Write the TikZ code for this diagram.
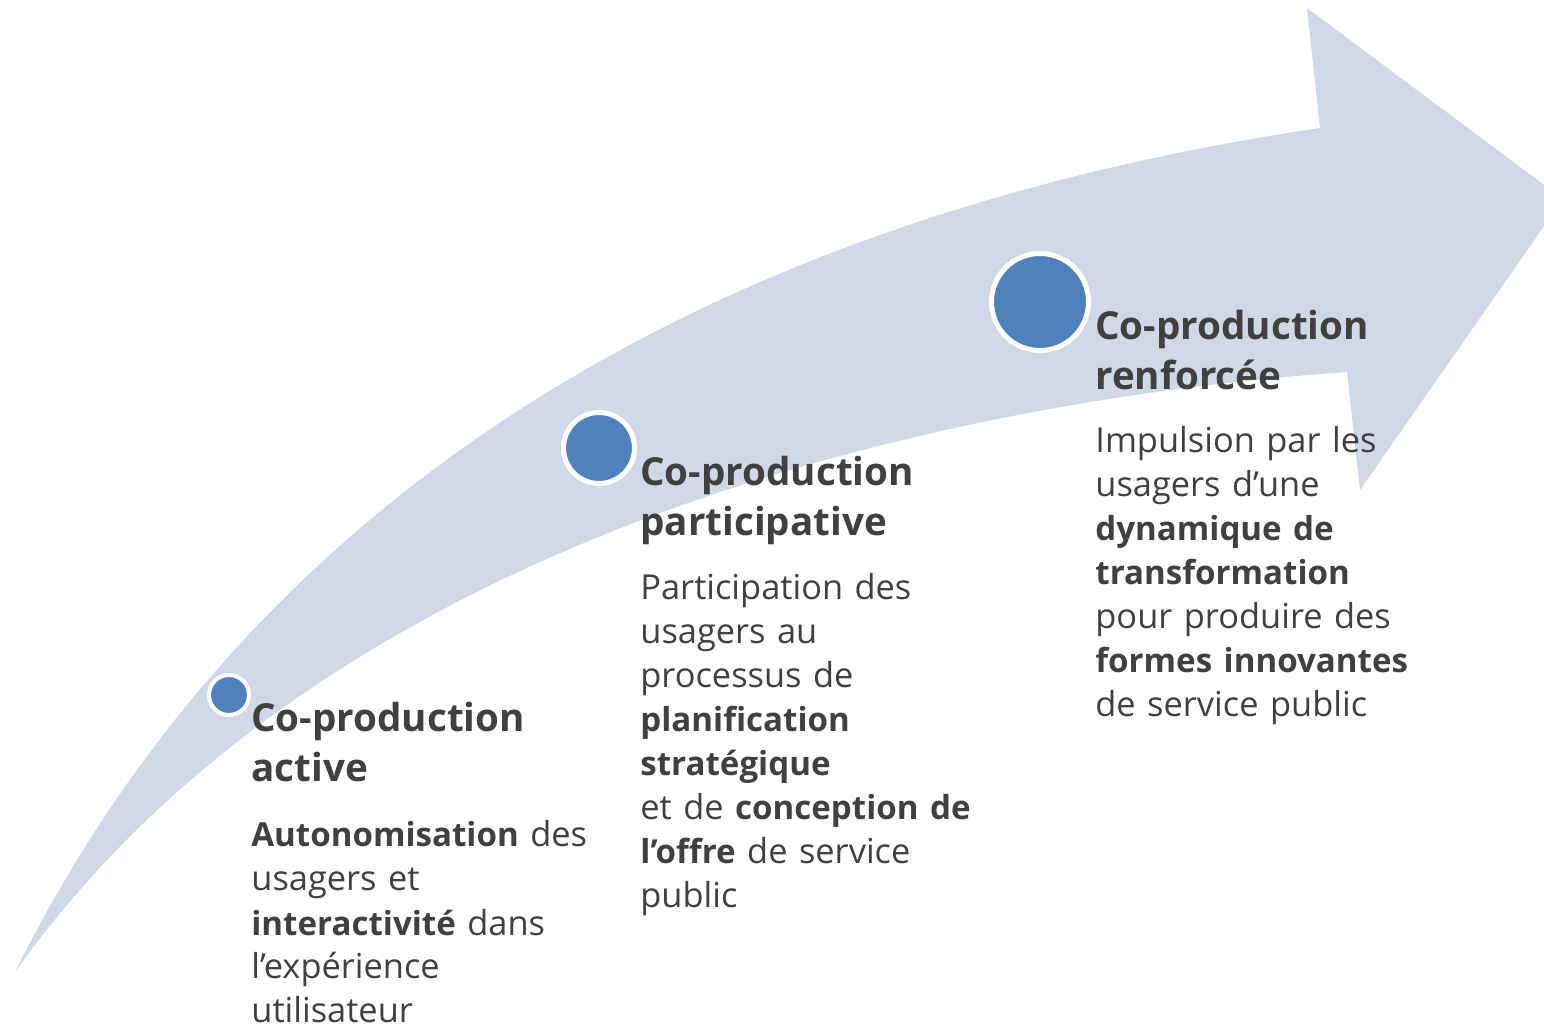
\documentclass[tikz,border=0pt]{standalone}
\usepackage{fontspec}
\setmainfont{Open Sans}
\definecolor{arrowfill}{HTML}{D0D8E8}
\definecolor{dotblue}{HTML}{4F81BD}
\definecolor{textgray}{HTML}{404040}
\newcommand\keyword[1]{{\fontsize{16.55}{22}\selectfont\bfseries #1}}
\begin{document}
\begin{tikzpicture}[x=0.5pt,y=-0.5pt,
    dot/.style={circle,fill=dotblue,draw=white,inner sep=0pt},
    head/.style={anchor=base west,align=left,text width=190pt,inner sep=0pt,text=textgray,font=\fontsize{19.3}{25}\selectfont\bfseries},
    body/.style={anchor=base west,align=left,text width=190pt,inner sep=0pt,text=textgray,font=\fontsize{17.2}{22}\selectfont}]
    \useasboundingbox (0,0) rectangle (1544,1026);
    \begin{scope}
        \clip (0,0) rectangle (1544,1026);
        \fill[arrowfill] (15,972) .. controls (250,500) and (700,220) .. (1320,128) -- (1307,8) -- (1563,199) -- (1360,490) -- (1347,372) .. controls (950,400) and (330,530) .. (15,972) -- cycle;
    \end{scope}
    \node[dot,minimum size=20pt,line width=2pt](c1)at(229,695){};
    \node[dot,minimum size=35.5pt,line width=2.5pt](c2)at(599,448){};
    \node[dot,minimum size=48.5pt,line width=2.5pt](c3)at(1040,302){};
    \node[head](h1)at(251,732){Co-production\\active};
    \node[head](h2)at(640,486){Co-production\\participative};
    \node[head](h3)at(1095,340){Co-production\\renforcée};
    \node[body](t1)at(251,847){\keyword{Autonomisation} des\\usagers et\\\keyword{interactivité} dans\\l’expérience\\utilisateur};
    \node[body](t2)at(640,600){Participation des\\usagers au\\processus de\\\keyword{planification}\\\keyword{stratégique}\\et de \keyword{conception de}\\\keyword{l’offre} de service\\public};
    \node[body](t3)at(1095,453){Impulsion par les\\usagers d’une\\\keyword{dynamique de}\\\keyword{transformation}\\pour produire des\\\keyword{formes innovantes}\\de service public};
\end{tikzpicture}
\end{document}
